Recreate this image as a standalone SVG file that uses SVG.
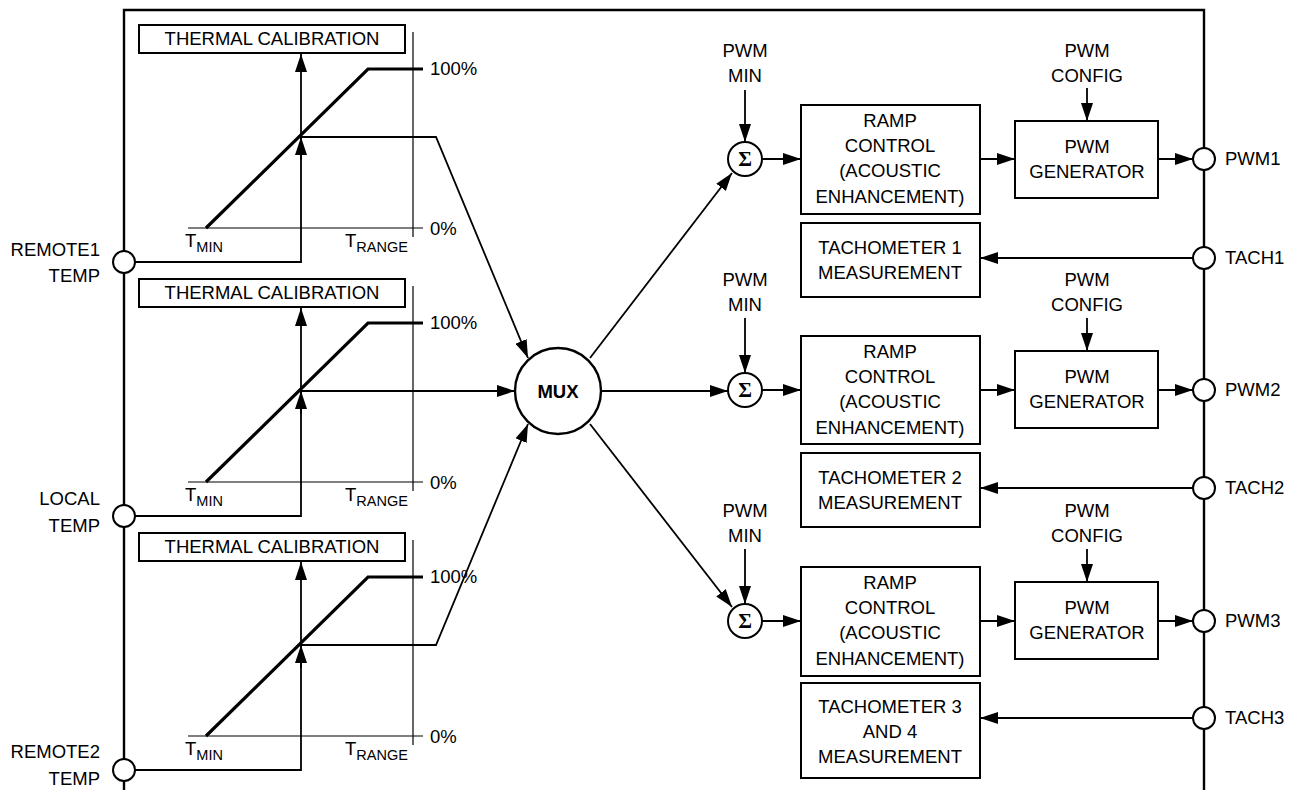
<svg xmlns="http://www.w3.org/2000/svg" width="1291" height="790" viewBox="0 0 1291 790">
<defs>
<marker id="ah" markerUnits="userSpaceOnUse" markerWidth="18" markerHeight="12" refX="18" refY="6" orient="auto"><path d="M0,0 L18,6 L0,12 z" fill="#000"/></marker>
<style>
text{font-family:"Liberation Sans",Arial,sans-serif;font-size:18.5px;fill:#000}
.c{text-anchor:middle}
.r{text-anchor:end}
.box{fill:#fff;stroke:#000;stroke-width:2}
.ln{fill:none;stroke:#000;stroke-width:1.8}
.fr{fill:none;stroke:#000;stroke-width:2.4}
.ar{fill:none;stroke:#000;stroke-width:1.8;marker-end:url(#ah)}
.ax{fill:none;stroke:#000;stroke-width:1.2}
.thk{fill:none;stroke:#000;stroke-width:3.2}
.pin{fill:#fff;stroke:#000;stroke-width:2}
.sub{font-size:14.5px}
.sig{font-family:"Liberation Serif","Times New Roman",serif;font-weight:bold;font-size:21px}
</style>
</defs>
<rect width="1291" height="790" fill="#fff"/>
<g id="frame">
<path class="fr" d="M124,790 V10 H1204 V790"/>
</g>
<g id="connectors">
<path class="ln" d="M135,262 H301 V137"/>
<path class="ar" d="M301,160 V137"/>
<path class="ar" d="M301,140 V54"/>
<path class="ar" d="M301,137 H436 L528,358"/>
<path class="ln" d="M135,516 H301 V391"/>
<path class="ar" d="M301,414 V391"/>
<path class="ar" d="M301,394 V308"/>
<path class="ar" d="M301,391 H515"/>
<path class="ln" d="M135,770 H301 V645"/>
<path class="ar" d="M301,668 V645"/>
<path class="ar" d="M301,648 V562"/>
<path class="ar" d="M301,645 H436 L528,424"/>
<path class="ar" d="M590,358 L732,173"/>
<path class="ar" d="M601,391 H728"/>
<path class="ar" d="M590,424 L732,607"/>
<path class="ar" d="M745,90 V142"/>
<path class="ar" d="M762,159 H801"/>
<path class="ar" d="M980,159 H1015"/>
<path class="ar" d="M1087,88 V121"/>
<path class="ar" d="M1158,159 H1193"/>
<path class="ar" d="M1193,258 H980"/>
<path class="ar" d="M745,318 V373"/>
<path class="ar" d="M762,390 H801"/>
<path class="ar" d="M980,390 H1015"/>
<path class="ar" d="M1087,318 V351"/>
<path class="ar" d="M1158,390 H1193"/>
<path class="ar" d="M1193,488 H980"/>
<path class="ar" d="M745,549 V604"/>
<path class="ar" d="M762,621 H801"/>
<path class="ar" d="M980,621 H1015"/>
<path class="ar" d="M1087,549 V582"/>
<path class="ar" d="M1158,621 H1193"/>
<path class="ar" d="M1193,718 H980"/>
</g>
<g id="graph1">
<rect class="box" x="139" y="25" width="266" height="28"/>
<text class="c" x="272" y="45">THERMAL CALIBRATION</text>
<path class="ax" d="M413,32 V237 M188,228 H423"/>
<path class="thk" d="M206,228 L368,69 H423"/>
<text x="430" y="75">100%</text>
<text x="430" y="235">0%</text>
<text x="185" y="247">T<tspan class="sub" dy="5">MIN</tspan></text>
<text x="345" y="247">T<tspan class="sub" dy="5">RANGE</tspan></text>
</g>
<g id="graph2">
<rect class="box" x="139" y="279" width="266" height="28"/>
<text class="c" x="272" y="299">THERMAL CALIBRATION</text>
<path class="ax" d="M413,286 V491 M188,482 H423"/>
<path class="thk" d="M206,482 L368,323 H423"/>
<text x="430" y="329">100%</text>
<text x="430" y="489">0%</text>
<text x="185" y="501">T<tspan class="sub" dy="5">MIN</tspan></text>
<text x="345" y="501">T<tspan class="sub" dy="5">RANGE</tspan></text>
</g>
<g id="graph3">
<rect class="box" x="139" y="533" width="266" height="28"/>
<text class="c" x="272" y="553">THERMAL CALIBRATION</text>
<path class="ax" d="M413,540 V745 M188,736 H423"/>
<path class="thk" d="M206,736 L368,577 H423"/>
<text x="430" y="583">100%</text>
<text x="430" y="743">0%</text>
<text x="185" y="755">T<tspan class="sub" dy="5">MIN</tspan></text>
<text x="345" y="755">T<tspan class="sub" dy="5">RANGE</tspan></text>
</g>
<g id="pin-remote1">
<circle class="pin" cx="124" cy="262" r="11"/>
<text class="r" x="100" y="256">REMOTE1</text>
<text class="r" x="100" y="282">TEMP</text>
</g>
<g id="pin-local">
<circle class="pin" cx="124" cy="516" r="11"/>
<text class="r" x="100" y="505">LOCAL</text>
<text class="r" x="100" y="532">TEMP</text>
</g>
<g id="pin-remote2">
<circle class="pin" cx="124" cy="770" r="11"/>
<text class="r" x="100" y="758">REMOTE2</text>
<text class="r" x="100" y="785">TEMP</text>
</g>
<g id="mux">
<circle cx="558" cy="391" r="43" fill="#fff" stroke="#000" stroke-width="2.4"/>
<text class="c" x="558" y="398" font-weight="bold" font-size="20.5">MUX</text>
</g>
<g id="sum1">
<circle class="pin" cx="745" cy="159" r="17"/>
<text class="c sig" x="745" y="166">Σ</text>
<text class="c" x="745" y="57">PWM</text>
<text class="c" x="745" y="82">MIN</text>
</g>
<g id="sum2">
<circle class="pin" cx="745" cy="390" r="17"/>
<text class="c sig" x="745" y="397">Σ</text>
<text class="c" x="745" y="286">PWM</text>
<text class="c" x="745" y="311">MIN</text>
</g>
<g id="sum3">
<circle class="pin" cx="745" cy="621" r="17"/>
<text class="c sig" x="745" y="628">Σ</text>
<text class="c" x="745" y="517">PWM</text>
<text class="c" x="745" y="542">MIN</text>
</g>
<g id="ramp1">
<rect class="box" x="801" y="105" width="179" height="109"/>
<text class="c" x="890" y="127">RAMP</text>
<text class="c" x="890" y="152">CONTROL</text>
<text class="c" x="890" y="177">(ACOUSTIC</text>
<text class="c" x="890" y="203">ENHANCEMENT)</text>
</g>
<g id="ramp2">
<rect class="box" x="801" y="336" width="179" height="108"/>
<text class="c" x="890" y="358">RAMP</text>
<text class="c" x="890" y="383">CONTROL</text>
<text class="c" x="890" y="408">(ACOUSTIC</text>
<text class="c" x="890" y="434">ENHANCEMENT)</text>
</g>
<g id="ramp3">
<rect class="box" x="801" y="567" width="179" height="109"/>
<text class="c" x="890" y="589">RAMP</text>
<text class="c" x="890" y="614">CONTROL</text>
<text class="c" x="890" y="639">(ACOUSTIC</text>
<text class="c" x="890" y="665">ENHANCEMENT)</text>
</g>
<g id="pwmgen1">
<rect class="box" x="1015" y="121" width="143" height="77"/>
<text class="c" x="1087" y="153">PWM</text>
<text class="c" x="1087" y="178">GENERATOR</text>
<text class="c" x="1087" y="57">PWM</text>
<text class="c" x="1087" y="82">CONFIG</text>
</g>
<g id="pwmgen2">
<rect class="box" x="1015" y="351" width="143" height="77"/>
<text class="c" x="1087" y="383">PWM</text>
<text class="c" x="1087" y="408">GENERATOR</text>
<text class="c" x="1087" y="286">PWM</text>
<text class="c" x="1087" y="311">CONFIG</text>
</g>
<g id="pwmgen3">
<rect class="box" x="1015" y="582" width="143" height="77"/>
<text class="c" x="1087" y="614">PWM</text>
<text class="c" x="1087" y="639">GENERATOR</text>
<text class="c" x="1087" y="517">PWM</text>
<text class="c" x="1087" y="542">CONFIG</text>
</g>
<g id="tach1">
<rect class="box" x="801" y="223" width="179" height="74"/>
<text class="c" x="890" y="254">TACHOMETER 1</text>
<text class="c" x="890" y="279">MEASUREMENT</text>
</g>
<g id="tach2">
<rect class="box" x="801" y="453" width="179" height="74"/>
<text class="c" x="890" y="484">TACHOMETER 2</text>
<text class="c" x="890" y="509">MEASUREMENT</text>
</g>
<g id="tach3">
<rect class="box" x="801" y="683" width="179" height="95"/>
<text class="c" x="890" y="713">TACHOMETER 3</text>
<text class="c" x="890" y="738">AND 4</text>
<text class="c" x="890" y="763">MEASUREMENT</text>
</g>
<g id="pins-right">
<circle class="pin" cx="1204" cy="159" r="11"/><text x="1225" y="165">PWM1</text>
<circle class="pin" cx="1204" cy="258" r="11"/><text x="1225" y="264">TACH1</text>
<circle class="pin" cx="1204" cy="390" r="11"/><text x="1225" y="396">PWM2</text>
<circle class="pin" cx="1204" cy="488" r="11"/><text x="1225" y="494">TACH2</text>
<circle class="pin" cx="1204" cy="621" r="11"/><text x="1225" y="627">PWM3</text>
<circle class="pin" cx="1204" cy="718" r="11"/><text x="1225" y="724">TACH3</text>
</g>
</svg>
